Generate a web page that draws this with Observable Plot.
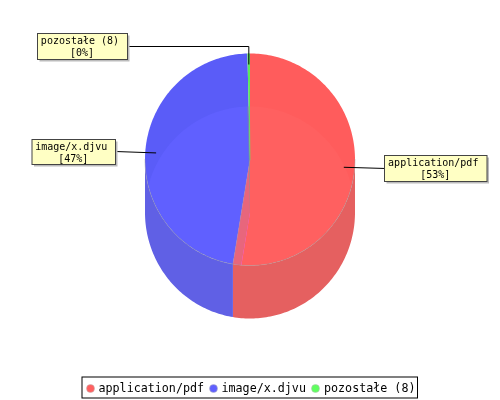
<!DOCTYPE html>
<html><head><meta charset="utf-8">
<style>html,body{margin:0;padding:0;background:#fff}svg{display:block}</style>
<script src="https://cdn.jsdelivr.net/npm/d3@7"></script>
<script src="https://cdn.jsdelivr.net/npm/@observablehq/plot@0.6"></script>
</head><body><script>
// Data
const categories = ["application/pdf", "image/x.djvu", "pozostałe (8)"];
const shares = [52.6, 47.0, 0.4];
const percentLabels = ["[53%]", "[47%]", "[0%]"];

// Style and layout
const faceColors = ["#ff5c5c", "#5a5cf8", "#5ce85c"];
const lensColors = ["#ff6060", "#6060ff", "#809a90"];
const wallColors = ["#e56060", "#6060e5", "#60e560"];
const legendColors = ["#ff6060", "#6060ff", "#60ff60"];
const stripColor = "#e8667c";
const center = {x: 249.5, y: 159}, radiusX = 105, radiusY = 106, depth = 53;
const labelRadius = 0.9;
const boxes = [
  {x1: 384.5, x2: 487, y1: 155.5, y2: 181.5, elbow: null},
  {x1: 32, x2: 115.5, y1: 139.5, y2: 164.5, elbow: null},
  {x1: 37.5, x2: 127.5, y1: 33.5, y2: 59.5, elbow: "corner"}
];
const leaderEnds = [[385, 168], [115, 151], [127, 46]];
const legendBox = {x1: 82, x2: 417.5, y1: 377, y2: 398};
const legendDots = [90, 213, 315];
const legendTexts = [98, 221, 323.5];
const legendY = 388;

// Slice angles, clockwise from the top
const total = d3.sum(shares);
let acc = 0;
const slices = categories.map((name, i) => {
  const a0 = acc / total * 2 * Math.PI;
  acc += shares[i];
  const a1 = acc / total * 2 * Math.PI;
  return {name, i, a0, a1, mid: (a0 + a1) / 2};
});
const pt = (a, dy = 0, r = 1) => [center.x + r * radiusX * Math.sin(a), center.y + dy - r * radiusY * Math.cos(a)];
const arc = (a0, a1, dy = 0) => {
  const n = Math.max(2, Math.ceil(Math.abs(a1 - a0) / 0.02));
  return d3.range(n + 1).map(k => pt(a0 + (a1 - a0) * k / n, dy));
};
const toRows = (poly, key, extra = {}) => poly.map(([x, y]) => ({x, y, key, ...extra}));
const wedge = (s, dy, key) => toRows([[center.x, center.y + dy], ...arc(s.a0, s.a1, dy)], key, {i: s.i});

const faces = slices.flatMap(s => wedge(s, 0, "t" + s.i));
const backRed = slices.slice(0, 2).flatMap(s => wedge(s, depth, "b" + s.i));
const backGreen = wedge(slices[2], depth, "g");

// Side walls: the part of each slice's rim facing the viewer
const wallRows = slices.flatMap(s => {
  const a0 = Math.max(s.a0, Math.PI / 2), a1 = Math.min(s.a1, 3 * Math.PI / 2);
  if (a1 <= a0) return [];
  return toRows([...arc(a0, a1, 0), ...arc(a1, a0, depth)], "w" + s.i, {i: s.i});
});

// Strip where the first slice's face lies over the second slice's lower disc
const s0 = slices[0];
const angleFromBack = ([x, y]) => {
  const a = Math.atan2((x - center.x) / radiusX, -(y - center.y - depth) / radiusY);
  return a < 0 ? a + 2 * Math.PI : a;
};
const stripArc = arc(s0.a1, s0.a0 + Math.PI / 2).filter(p => angleFromBack(p) > s0.a1);
const strip = toRows([[center.x, center.y], ...stripArc, [center.x, center.y + depth]], "strip");

// Ring outline for the rim of the face
const rimFront = arc(Math.PI / 2, 3 * Math.PI / 2, 0).map(([x, y]) => ({x, y}));
const split = [pt(s0.a1), [center.x, center.y]].map(([x, y]) => ({x, y}));
const greenSpine = [pt(slices[2].mid), [center.x, center.y]].map(([x, y]) => ({x, y}));

const shadow = boxes.map(b => ({x1: b.x1 + 2, x2: b.x2 + 2, y1: b.y1 + 2, y2: b.y2 + 2}));
const leaders = slices.flatMap(s => {
  const a = pt(s.mid, 0, labelRadius), e = leaderEnds[s.i];
  const via = boxes[s.i].elbow ? [[a[0], e[1]]] : [];
  return [a, ...via, e].map(([x, y]) => ({x, y, i: s.i}));
});
const labelRows = slices.map(s => ({
  name: s.name, pct: percentLabels[s.i],
  x: (boxes[s.i].x1 + boxes[s.i].x2) / 2,
  y: boxes[s.i].y1
}));

const poly = (rows, fill, extra = {}) => Plot.line(rows, {x: "x", y: "y", z: "key", fill, stroke: "none", curve: "linear-closed", ...extra});

const chart = Plot.plot({
  width: 500, height: 400,
  margin: 0,
  x: {domain: [0, 500], range: [0, 500], axis: null},
  y: {domain: [0, 400], range: [0, 400], axis: null},
  style: {background: "#fff", fontFamily: "'DejaVu Sans Mono', monospace"},
  marks: [
    ...slices.map(s => poly(faces.filter(d => d.i === s.i), faceColors[s.i])),
    ...[0, 1].map(i => poly(backRed.filter(d => d.i === i), lensColors[i], {mixBlendMode: "lighten"})),
    poly(strip, stripColor),
    poly(backGreen, lensColors[2], {fillOpacity: 0.6}),
    Plot.line(greenSpine, {x: "x", y: "y", stroke: "#5ce85c", strokeWidth: 1, strokeOpacity: 0.6}),
    ...[0, 1].map(i => poly(wallRows.filter(d => d.i === i), wallColors[i])),
    Plot.line(rimFront, {x: "x", y: "y", stroke: "#999", strokeWidth: 0.7, strokeOpacity: 0.6}),
    Plot.line(split, {x: "x", y: "y", stroke: "#999", strokeWidth: 0.6, strokeOpacity: 0.6}),
    Plot.line(leaders, {x: "x", y: "y", z: "i", stroke: "#000", strokeWidth: 1}),
    Plot.rect(shadow, {x1: "x1", x2: "x2", y1: "y1", y2: "y2", fill: "#bbb"}),
    Plot.rect(boxes, {x1: "x1", x2: "x2", y1: "y1", y2: "y2", fill: "#ffffc4", stroke: "#444", strokeWidth: 1}),
    Plot.text(labelRows, {x: d => d.x - 3, y: "y", dy: 7, text: "name", fontSize: 10, fill: "#000"}),
    Plot.text(labelRows, {x: d => d.x - 1, y: "y", dy: 18.5, text: "pct", fontSize: 10, fill: "#000"}),
    Plot.rect([legendBox], {x1: "x1", x2: "x2", y1: "y1", y2: "y2", fill: "#fff", stroke: "#000", strokeWidth: 1}),
    Plot.dot(slices, {x: d => legendDots[d.i], y: () => legendY, r: 4, fill: d => legendColors[d.i], stroke: "#bbb", strokeWidth: 0.5}),
    Plot.text(slices, {x: d => legendTexts[d.i], y: () => legendY, text: "name", textAnchor: "start", fontSize: 11.7, fill: "#000"})
  ]
});
document.body.appendChild(chart);
</script></body></html>
